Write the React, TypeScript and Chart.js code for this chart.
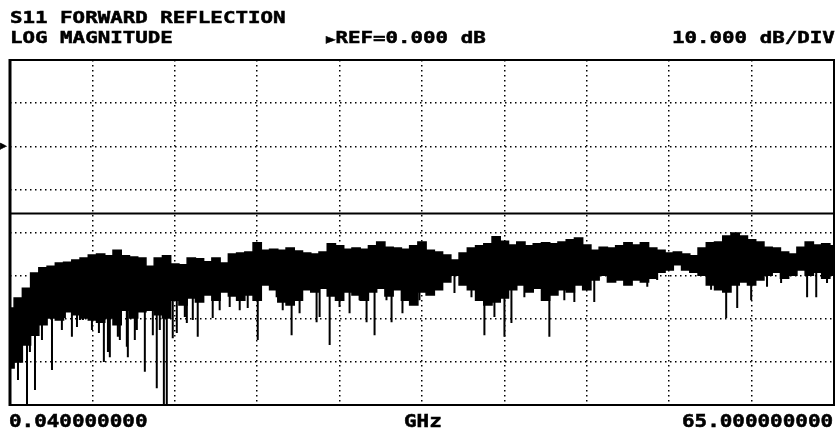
import React, { useEffect, useRef } from "react";
import { Chart, registerables } from "chart.js";

Chart.register(...registerables);

// ---- sweep / scale settings (values shown on the screen) ----
const START_GHZ = 0.04;
const STOP_GHZ = 65.0;
const Y_MIN_DB = -60;
const Y_MAX_DB = 20;
const DB_PER_DIV = 10;
const X_DIVISIONS = 10;

// ---- trace: upper edge of the noisy S11 band (dB), equally spaced sweep points ----
const traceUpperDb = [
  -37.5, -35.2, -32.9, -29.4, -28.2, -27.8, -27.1, -26.9, -26.4, -25.9,
  -25.2, -25.0, -25.4, -24.1, -25.4, -25.7, -25.9, -27.8, -25.9, -25.4,
  -27.3, -27.5, -25.9, -26.1, -26.8, -25.9, -27.1, -25.0, -24.75, -24.5,
  -22.4, -24.1, -23.9, -24.1, -23.6, -24.3, -24.75, -25.0, -24.5, -22.6,
  -23.1, -23.9, -23.6, -23.9, -23.1, -22.2, -23.4, -23.6, -23.9, -23.1,
  -22.2, -24.1, -24.5, -25.2, -26.4, -24.75, -23.6, -23.1, -22.6, -21.0,
  -22.0, -22.9, -22.2, -23.1, -22.6, -22.4, -22.6, -22.2, -21.7, -21.3,
  -22.9, -24.1, -23.4, -23.6, -23.1, -22.4, -22.9, -22.4, -23.6, -24.1,
  -24.75, -24.5, -25.0, -25.4, -23.6, -22.4, -22.2, -20.8, -20.1, -20.8,
  -21.7, -22.2, -23.4, -23.6, -24.5, -25.0, -23.4, -22.2, -22.9, -22.6, -23.1,
];

// ---- trace: lower edge of the dense part of the band (dB) ----
const traceLowerDb = [
  -51.4, -50.0, -46.1, -43.8, -41.4, -39.8, -40.3, -38.4, -39.1, -39.8,
  -40.3, -40.8, -39.8, -41.4, -38.0, -39.8, -38.4, -38.0, -39.1, -39.8,
  -35.7, -36.8, -35.2, -36.1, -34.5, -35.7, -33.8, -34.7, -35.7, -34.5,
  -35.7, -32.2, -33.3, -36.1, -36.8, -35.7, -33.3, -33.8, -32.9, -34.7,
  -35.7, -33.8, -34.5, -35.7, -33.8, -32.9, -34.7, -33.3, -35.7, -36.8,
  -33.8, -34.5, -33.3, -31.5, -29.9, -32.2, -33.3, -35.7, -36.8, -36.1,
  -35.2, -33.3, -32.2, -33.8, -32.9, -35.7, -34.5, -33.3, -33.8, -32.2,
  -33.3, -31.0, -29.9, -31.5, -31.0, -32.2, -31.0, -31.5, -30.6, -29.2,
  -28.7, -27.5, -28.7, -29.2, -29.9, -32.2, -33.3, -33.8, -32.2, -31.5,
  -32.2, -31.0, -29.9, -29.2, -30.6, -29.9, -28.7, -29.9, -29.2, -30.6, -29.9,
];

// ---- dips (resonances) reaching below the dense band ----
const spikeGHz = [
  0.2, 0.67, 1.38, 1.61, 2.01, 2.56, 3.35, 4.13, 4.37, 4.92,
  5.32, 5.55, 5.79, 6.5, 7.05, 7.44, 7.76, 7.91, 8.54, 8.7,
  9.25, 9.33, 9.88, 10.04, 10.67, 11.3, 11.61, 11.85, 12.17, 12.4,
  12.87, 13.19, 13.82, 13.98, 14.45, 14.84, 16.02, 16.57, 17.36, 18.15,
  18.78, 19.57, 21.06, 21.54, 22.24, 22.87, 24.21, 24.45, 25.24, 26.02,
  26.81, 27.6, 28.15, 28.78, 29.72, 30.12, 30.98, 32.09, 32.32, 35.08,
  36.42, 37.44, 38.23, 39.02, 39.57, 40.59, 42.56, 43.74, 44.53, 46.1,
  50.28, 51.06, 55.31, 56.5, 57.37, 58.47, 59.72, 60.83, 62.88, 63.6,
  64.45,
];
const spikeDb = [
  -51.4, -54.2, -60.0, -47.7, -56.5, -44.9, -51.9, -42.6, -39.8, -44.2,
  -41.9, -40.3, -40.3, -42.6, -43.3, -50.0, -47.7, -48.9, -44.2, -44.9,
  -46.5, -48.9, -44.9, -42.6, -52.3, -43.8, -56.1, -42.6, -60.0, -60.0,
  -44.5, -43.3, -39.6, -41.0, -40.3, -44.2, -39.8, -38.0, -37.3, -38.0,
  -37.5, -44.9, -35.0, -38.0, -43.8, -38.7, -40.8, -39.6, -46.1, -37.3,
  -38.7, -35.7, -40.8, -43.8, -35.7, -40.8, -38.7, -35.7, -35.7, -34.0,
  -35.0, -43.8, -39.6, -44.2, -41.0, -35.0, -44.2, -35.7, -36.1, -36.1,
  -32.6, -31.0, -33.3, -39.8, -37.5, -35.7, -32.6, -31.7, -35.0, -35.0,
  -31.7,
];

// ---- solid horizontal line across the graticule (dB) ----
const limitLineDb = -15.6;

// ---- screen annotations ----
const titleText = "S11 FORWARD REFLECTION";
const formatText = "LOG MAGNITUDE";
const refArrow = "▶";
const refText = "REF=0.000 dB";
const scaleText = "10.000 dB/DIV";
const startText = "0.040000000";
const unitText = "GHz";
const stopText = "65.000000000";

const W = 835;
const H = 434;

const sweepGHz = (i: number, n: number) =>
  START_GHZ + (i * (STOP_GHZ - START_GHZ)) / (n - 1);

const framePlugin = {
  id: "vnaFrame",
  afterDatasetsDraw(chart: any) {
    const { ctx, chartArea: a } = chart;
    ctx.save();
    ctx.strokeStyle = "#000";
    ctx.lineWidth = 2;
    ctx.strokeRect(a.left, a.top, a.right - a.left, a.bottom - a.top);
    ctx.lineWidth = 3;
    ctx.beginPath();
    ctx.moveTo(a.left, a.top - 1);
    ctx.lineTo(a.left, a.bottom + 1);
    ctx.stroke();
    ctx.restore();
  },
};

const textBase: React.CSSProperties = {
  position: "absolute",
  fontFamily: '"DejaVu Sans Mono", monospace',
  fontWeight: "bold",
  color: "#000",
  whiteSpace: "pre",
  transformOrigin: "left top",
  margin: 0,
  WebkitTextStroke: "0.5px #000",
};

function Label(props: { text: React.ReactNode; left: number; top: number; size: number; sx: number }) {
  return (
    <div
      style={{
        ...textBase,
        left: props.left,
        top: props.top,
        fontSize: props.size,
        lineHeight: props.size + "px",
        transform: `scaleX(${props.sx})`,
      }}
    >
      {props.text}
    </div>
  );
}

export default function App() {
  const canvasRef = useRef<HTMLCanvasElement | null>(null);

  useEffect(() => {
    const canvas = canvasRef.current;
    if (!canvas) return;

    const n = traceUpperDb.length;
    const upperPts = traceUpperDb.map((y, i) => ({ x: sweepGHz(i, n), y }));
    const lowerPts = traceLowerDb.map((y, i) => ({ x: sweepGHz(i, n), y }));

    const spikePts: { x: number; y: number | null }[] = [];
    spikeGHz.forEach((f, k) => {
      const idx = Math.max(
        0,
        Math.min(n - 1, Math.round(((f - START_GHZ) / (STOP_GHZ - START_GHZ)) * (n - 1)))
      );
      const top = Math.max(traceLowerDb[idx], spikeDb[k]) + 3;
      spikePts.push({ x: f, y: top });
      spikePts.push({ x: f, y: spikeDb[k] });
      spikePts.push({ x: f, y: null });
    });

    const gridGHz: number[] = [];
    for (let k = 0; k <= X_DIVISIONS; k++) {
      gridGHz.push(START_GHZ + (k * (STOP_GHZ - START_GHZ)) / X_DIVISIONS);
    }

    const common = {
      pointRadius: 0,
      pointHoverRadius: 0,
      borderColor: "#000",
      tension: 0,
    };

    const chart = new Chart(canvas, {
      type: "line",
      data: {
        datasets: [
          {
            ...common,
            label: "S11 upper",
            data: upperPts,
            borderWidth: 1.5,
            stepped: "middle",
            fill: "+1",
            backgroundColor: "#000",
          },
          {
            ...common,
            label: "S11 lower",
            data: lowerPts,
            borderWidth: 1.5,
            stepped: "middle",
            fill: false,
          },
          {
            ...common,
            label: "S11 dips",
            data: spikePts,
            borderWidth: 2,
            spanGaps: false,
            fill: false,
          },
          {
            ...common,
            label: "limit",
            data: [
              { x: START_GHZ, y: limitLineDb },
              { x: STOP_GHZ, y: limitLineDb },
            ],
            borderWidth: 2,
            fill: false,
          },
        ] as any,
      },
      options: {
        responsive: false,
        animation: false,
        events: [],
        layout: { padding: { left: 10, top: 60, right: 1, bottom: 29 } },
        plugins: {
          legend: { display: false },
          tooltip: { enabled: false },
          title: { display: false },
        },
        scales: {
          x: {
            type: "linear",
            min: START_GHZ,
            max: STOP_GHZ,
            afterBuildTicks: (s: any) => {
              s.ticks = gridGHz.map((v) => ({ value: v }));
            },
            afterFit: (s: any) => {
              s.height = 0;
            },
            ticks: { display: false },
            grid: { color: "#000", lineWidth: 1.5, drawTicks: false },
            border: { display: false, dash: [1.5, 3.5] },
          },
          y: {
            type: "linear",
            min: Y_MIN_DB,
            max: Y_MAX_DB,
            ticks: { display: false, stepSize: DB_PER_DIV },
            afterFit: (s: any) => {
              s.width = 0;
            },
            grid: { color: "#000", lineWidth: 1.5, drawTicks: false },
            border: { display: false, dash: [1.5, 3.5] },
          },
        },
      } as any,
      plugins: [framePlugin],
    });

    return () => chart.destroy();
  }, []);

  return (
    <div
      style={{
        position: "absolute",
        left: 0,
        top: 0,
        width: W,
        height: H,
        background: "#fff",
        overflow: "hidden",
      }}
    >
      <canvas ref={canvasRef} width={W} height={H} style={{ position: "absolute", left: 0, top: 0 }} />
      <Label text={titleText} left={10} top={10} size={16} sx={1.3} />
      <Label text={formatText} left={10} top={30} size={16} sx={1.3} />
      <Label
        text={
          <>
            <span style={{ fontSize: 12 }}>{refArrow}</span>
            {refText}
          </>
        }
        left={326}
        top={30}
        size={16}
        sx={1.3}
      />
      <Label text={scaleText} left={672} top={30} size={16} sx={1.3} />
      <Label text={startText} left={9} top={413} size={17} sx={1.23} />
      <Label text={unitText} left={404} top={413} size={17} sx={1.23} />
      <Label text={stopText} left={682} top={413} size={17} sx={1.23} />
      <div
        style={{
          ...textBase,
          left: 0,
          top: 140,
          fontSize: 11,
          lineHeight: "11px",
        }}
      >
        {refArrow}
      </div>
    </div>
  );
}
